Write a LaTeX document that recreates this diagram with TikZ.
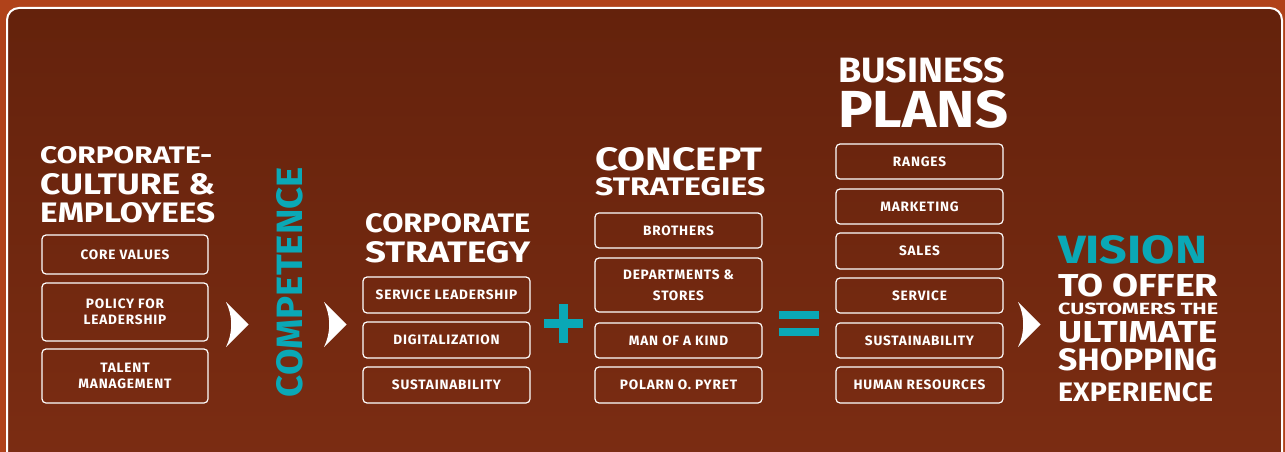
\documentclass[tikz,border=0pt]{standalone}
\usepackage{fontspec}
\setmainfont{Fira Sans}
\newfontfamily\labfont{Fira Sans}[LetterSpace=6]
\usepackage{graphicx}
\definecolor{bgout}{HTML}{B0421A}
\definecolor{bgtop}{HTML}{64220C}
\definecolor{bgbot}{HTML}{7C2D13}
\definecolor{cy}{HTML}{0AA8B6}
\newcommand\fitw[3]{\resizebox{#1pt}{#2pt}{\bfseries #3}}
\tikzset{
  lab/.style={draw=white, line width=1.2pt, rounded corners=4pt, text=white,
    font=\labfont\bfseries\fontsize{13.6}{16}\selectfont, align=center,
    inner sep=0pt, minimum width=167pt},
  head/.style={anchor=base west, inner sep=0pt, text=white},
  chev/.style={fill=white},
  sym/.style={fill=cy}
}
\begin{document}
\begin{tikzpicture}[x=1pt,y=-1pt]
\useasboundingbox (0,0) rectangle (1285,452);
\clip (0,0) rectangle (1285,452);
\fill[bgout] (0,0) rectangle (1285,452);
\shade[top color=bgtop, bottom color=bgbot, rounded corners=12pt] (7,8) rectangle (1282,480);
\draw[white, line width=2pt, rounded corners=12pt] (7,8) rectangle (1282,480);

% column 1
\node[head] (h1a) at (40,163) {\fitw{172}{17}{CORPORATE-}};
\node[head] (h1b) at (40,194) {\fitw{175}{21}{CULTURE \&}};
\node[head] (h1c) at (40,222) {\fitw{175}{20}{EMPLOYEES}};
\node[lab, minimum width=166pt, minimum height=39pt] (b11) at (125,254.5) {CORE VALUES};
\node[lab, minimum width=166pt, minimum height=58pt] (b12) at (125,312) {POLICY FOR\\LEADERSHIP};
\node[lab, minimum width=166pt, minimum height=54pt] (b13) at (125,376) {TALENT\\MANAGEMENT};

% chevrons
\foreach \cx in {226,324,1018}{
  \fill[chev] (\cx,302) -- (\cx+22.5,324.5) -- (\cx,347)
     .. controls (\cx+7,333) and (\cx+7,316) .. cycle;
}

% competence
\node[inner sep=0pt, rotate=90, text=cy] (comp) at (290,282) {\fitw{230}{26}{COMPETENCE}};

% column 2
\node[head] (h2a) at (365,232) {\fitw{165}{19}{CORPORATE}};
\node[head] (h2b) at (365,262) {\fitw{165}{21}{STRATEGY}};
\node[lab, minimum height=36pt] (b21) at (446.5,295) {SERVICE LEADERSHIP};
\node[lab, minimum height=36pt] (b22) at (446.5,340) {DIGITALIZATION};
\node[lab, minimum height=36pt] (b23) at (446.5,385) {SUSTAINABILITY};

% plus
\fill[sym] (544,319) rectangle (583,328);
\fill[sym] (559,304) rectangle (568,343);

% column 3
\node[head] (h3a) at (595,170) {\fitw{167}{23}{CONCEPT}};
\node[head] (h3b) at (595,195) {\fitw{170}{18}{STRATEGIES}};
\node[lab, minimum height=35pt] (b31) at (678.5,230.5) {BROTHERS};
\node[lab, minimum height=54pt] (b32) at (678.5,285) {DEPARTMENTS \&\\[5pt]STORES};
\node[lab, minimum height=35pt] (b33) at (678.5,340.5) {MAN OF A KIND};
\node[lab, minimum height=36pt] (b34) at (678.5,385) {POLARN O. PYRET};

% equals
\fill[sym] (779,311) rectangle (819,319);
\fill[sym] (779,328) rectangle (819,336);

% column 4
\node[head] (h4a) at (838,82) {\fitw{167}{25}{BUSINESS}};
\node[head] (h4b) at (838,127) {\fitw{170}{37}{PLANS}};
\node[lab, minimum height=35pt] (b41) at (919.5,161.5) {RANGES};
\node[lab, minimum height=35pt] (b42) at (919.5,206.5) {MARKETING};
\node[lab, minimum height=36pt] (b43) at (919.5,251) {SALES};
\node[lab, minimum height=35pt] (b44) at (919.5,295.5) {SERVICE};
\node[lab, minimum height=35pt] (b45) at (919.5,340.5) {SUSTAINABILITY};
\node[lab, minimum height=36pt] (b46) at (919.5,385) {HUMAN RESOURCES};

% vision
\node[head, text=cy] (v1) at (1058,263) {\fitw{149}{28}{VISION}};
\node[head] (v2) at (1058,296.5) {\fitw{160}{22.5}{TO OFFER}};
\node[head] (v3) at (1058,314) {\fitw{160}{11.5}{CUSTOMERS THE}};
\node[head] (v4) at (1058,342) {\fitw{159}{21}{ULTIMATE}};
\node[head] (v5) at (1058,370) {\fitw{159}{22}{SHOPPING}};
\node[head] (v6) at (1058,401) {\fitw{155}{19}{EXPERIENCE}};
\end{tikzpicture}
\end{document}
